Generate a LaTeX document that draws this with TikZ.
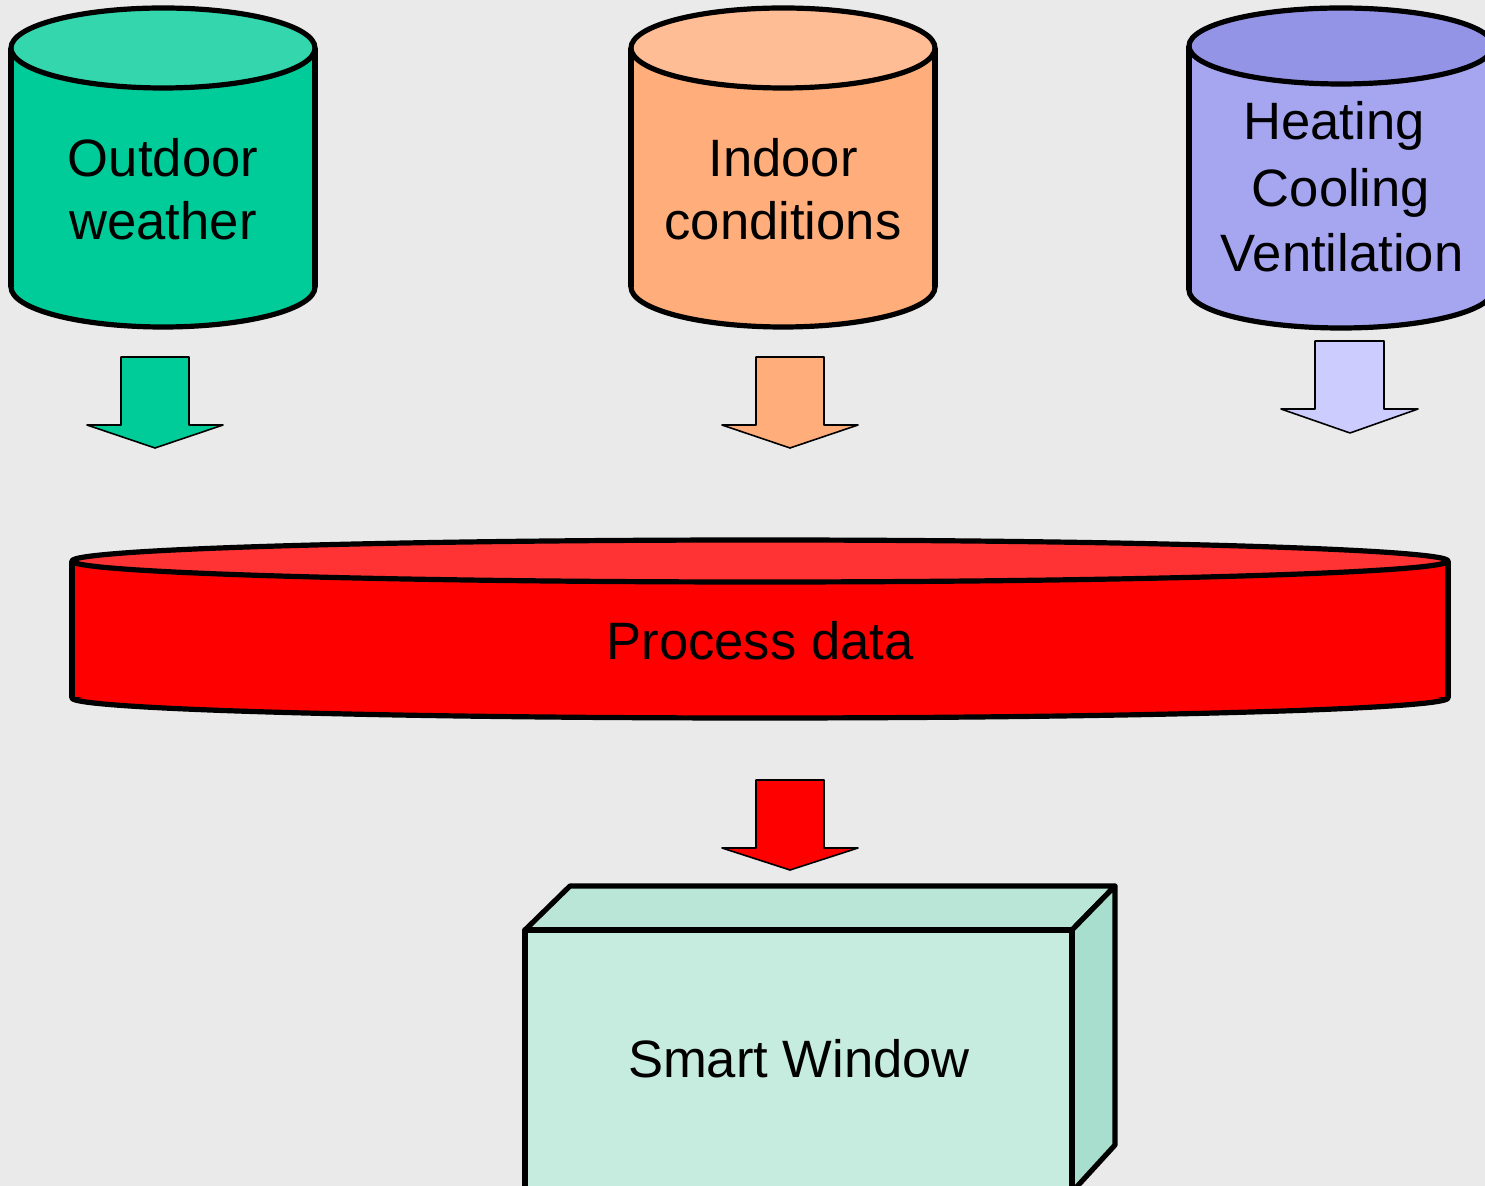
\documentclass[tikz,border=0pt]{standalone}
\usepackage{fontspec}
\setmainfont{Liberation Sans}
\definecolor{bgc}{HTML}{EAEAEA}
\definecolor{grnb}{HTML}{00CC99}
\definecolor{grnt}{HTML}{33D6AD}
\definecolor{orgb}{HTML}{FFAD7A}
\definecolor{orgt}{HTML}{FFBD95}
\definecolor{purb}{HTML}{A6A6F0}
\definecolor{purt}{HTML}{9494E6}
\definecolor{pura}{HTML}{CCCCFF}
\definecolor{redb}{HTML}{FF0000}
\definecolor{redt}{HTML}{FF3333}
\definecolor{swf}{HTML}{C6EBDF}
\definecolor{swt}{HTML}{BAE6D8}
\definecolor{swr}{HTML}{A8DECD}
\begin{document}
\begin{tikzpicture}[x=0.5pt,y=-0.5pt,line join=round,
  outl/.style={draw=black,line width=2.6pt},
  thinl/.style={draw=black,line width=0.8pt},
  lbl/.style={font=\fontsize{26.3}{32}\selectfont,inner sep=0pt,anchor=base}]
\fill[bgc] (0,0) rectangle (1485,1186);
\useasboundingbox (0,0) rectangle (1485,1186);
\clip (0,0) rectangle (1485,1186);

% ---- Outdoor weather cylinder
\fill[grnb] (11,48) rectangle (315,287);
\fill[grnb] (163,287) ellipse [x radius=76pt,y radius=20pt];
\begin{scope}
\clip (0,287) rectangle (330,340);
\draw[outl] (163,287) ellipse [x radius=76pt,y radius=20pt];
\end{scope}
\draw[outl] (11,48) -- (11,287) (315,48) -- (315,287);
\filldraw[outl,fill=grnt] (163,48) ellipse [x radius=76pt,y radius=20pt];
\node[lbl] (o1) at (163,177) {Outdoor};
\node[lbl] (o2) at (163,240) {weather};

% ---- Indoor conditions cylinder
\fill[orgb] (631,48) rectangle (935,287);
\fill[orgb] (783,287) ellipse [x radius=76pt,y radius=20pt];
\begin{scope}
\clip (600,287) rectangle (960,340);
\draw[outl] (783,287) ellipse [x radius=76pt,y radius=20pt];
\end{scope}
\draw[outl] (631,48) -- (631,287) (935,48) -- (935,287);
\filldraw[outl,fill=orgt] (783,48) ellipse [x radius=76pt,y radius=20pt];
\node[lbl] (i1) at (783,177) {Indoor};
\node[lbl] (i2) at (783,240) {conditions};

% ---- Heating Cooling Ventilation cylinder
\fill[purb] (1189,46) rectangle (1493,290);
\fill[purb] (1341,290) ellipse [x radius=76pt,y radius=19pt];
\begin{scope}
\clip (1170,290) rectangle (1500,340);
\draw[outl] (1341,290) ellipse [x radius=76pt,y radius=19pt];
\end{scope}
\draw[outl] (1189,46) -- (1189,290) (1493,46) -- (1493,290);
\filldraw[outl,fill=purt] (1341,46) ellipse [x radius=76pt,y radius=19pt];
\node[lbl] (h1) at (1334,140) {Heating};
\node[lbl] (h2) at (1341,207) {Cooling};
\node[lbl] (h3) at (1342,272) {Ventilation};

% ---- block arrows
\filldraw[thinl,fill=grnb] (121,357) -- (189,357) -- (189,425) -- (223,425) -- (155,448) -- (87,425) -- (121,425) -- cycle;
\filldraw[thinl,fill=orgb] (756,357) -- (824,357) -- (824,425) -- (858,425) -- (790,448) -- (722,425) -- (756,425) -- cycle;
\filldraw[thinl,fill=pura] (1315,341) -- (1384,341) -- (1384,409) -- (1418,409) -- (1350,433) -- (1281,409) -- (1315,409) -- cycle;
\filldraw[thinl,fill=redb] (756,780) -- (824,780) -- (824,848) -- (858,848) -- (790,870) -- (722,848) -- (756,848) -- cycle;

% ---- Process data disc
\fill[redb] (72,561) rectangle (1448,698);
\fill[redb] (760,698) ellipse [x radius=344pt,y radius=10pt];
\begin{scope}
\clip (50,698) rectangle (1470,740);
\draw[outl] (760,698) ellipse [x radius=344pt,y radius=10pt];
\end{scope}
\draw[outl] (72,561) -- (72,698) (1448,561) -- (1448,698);
\filldraw[outl,fill=redt] (760,561) ellipse [x radius=344pt,y radius=10.5pt];
\node[lbl] (p) at (760,660) {Process data};

% ---- Smart Window box
\filldraw[outl,fill=swt] (525,930) -- (570,886) -- (1115,886) -- (1072,930) -- cycle;
\filldraw[outl,fill=swr] (1072,930) -- (1115,886) -- (1115,1145) -- (1072,1192) -- cycle;
\filldraw[outl,fill=swf] (525,930) rectangle (1072,1200);
\node[lbl] (sw) at (799,1078) {Smart Window};
\end{tikzpicture}
\end{document}
